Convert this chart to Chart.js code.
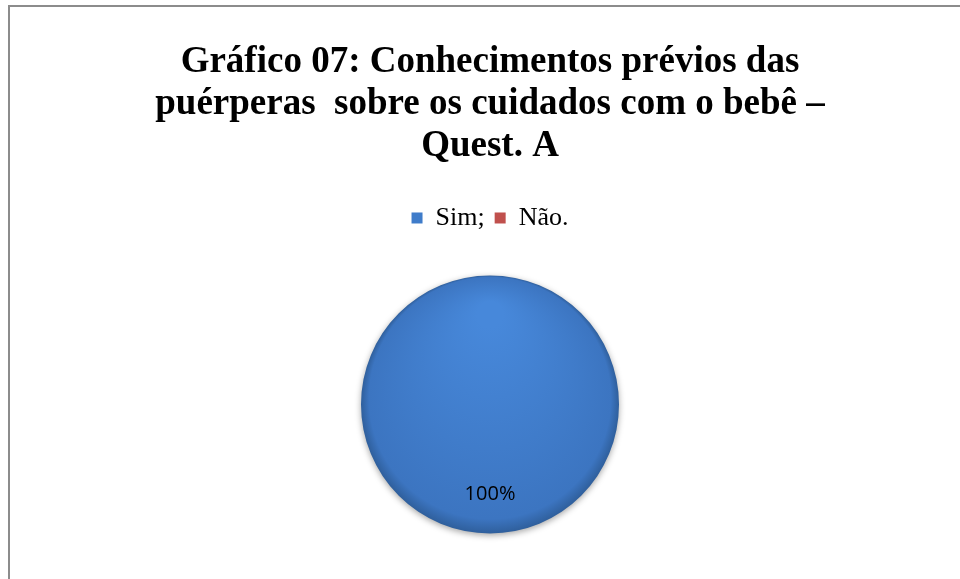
<!DOCTYPE html>
<html>
<head>
<meta charset="utf-8">
<script src="https://cdn.jsdelivr.net/npm/chart.js@4"></script>
<style>
  body { margin: 0; background: #fff; overflow: hidden; }
  #frame { position: absolute; left: 8px; top: 5px; width: 1000px; height: 700px; border: 2px solid #8c8c8c; }
  #wrap { position: absolute; left: 10px; top: 0; width: 960px; height: 579px; }
</style>
</head>
<body>
<div id="frame"></div>
<div id="wrap"><canvas id="pieChart" width="960" height="579"></canvas></div>
<script>
// Data
const categories = ['Sim;', 'Não.'];
const values = [100, 0];
const percentLabels = ['100%', '0%'];
const titleLines = ['Gráfico 07: Conhecimentos prévios das', 'puérperas  sobre os cuidados com o bebê –', 'Quest. A'];

const PIE_RADIUS = 129;

// Shaded fill for slices, close to the office bevel look
function sliceColor(ctx) {
    const chart = ctx.chart;
    const area = chart.chartArea;
    const cols = ctx.dataIndex === 0
        ? ['#4788da', '#3c75c1', '#2f5f9c']
        : ['#d4574f', '#b4443f', '#8e3431'];
    if (!area) return cols[1];
    const cx = (area.left + area.right) / 2;
    const cy = (area.top + area.bottom) / 2;
    const r = PIE_RADIUS;
    const g = chart.ctx.createRadialGradient(cx, cy - r * 0.7, r * 0.1, cx, cy, r);
    g.addColorStop(0, cols[0]);
    g.addColorStop(0.93, cols[1]);
    g.addColorStop(1, cols[2]);
    return g;
}

// Soft shadow under the pie
const pieShadow = {
    id: 'pieShadow',
    beforeDatasetsDraw(chart) {
        const c = chart.ctx;
        c.save();
        c.shadowColor = 'rgba(0,0,0,0.35)';
        c.shadowBlur = 6;
        c.shadowOffsetY = 2;
    },
    afterDatasetsDraw(chart) {
        chart.ctx.restore();
    }
};

// Draw the percent label inside each non-empty slice
const sliceLabels = {
    id: 'sliceLabels',
    afterDatasetsDraw(chart) {
        const ctx = chart.ctx;
        const meta = chart.getDatasetMeta(0);
        ctx.save();
        ctx.font = '20px "Open Sans", sans-serif';
        ctx.fillStyle = '#000';
        ctx.textAlign = 'center';
        ctx.textBaseline = 'middle';
        meta.data.forEach((arc, i) => {
            if (!values[i]) return;
            const mid = (arc.startAngle + arc.endAngle) / 2;
            const r = arc.outerRadius * 0.7;
            ctx.fillText(percentLabels[i], arc.x + Math.cos(mid) * r, arc.y + Math.sin(mid) * r);
        });
        ctx.restore();
    }
};

const ctx = document.getElementById('pieChart').getContext('2d');
const pieChart = new Chart(ctx, {
    type: 'pie',
    data: {
        labels: categories,
        datasets: [{
            data: values,
            backgroundColor: sliceColor,
            borderWidth: 0,
            radius: PIE_RADIUS
        }]
    },
    options: {
        responsive: false,
        animation: false,
        layout: { padding: { top: 0, bottom: 11 } },
        plugins: {
            title: {
                display: true,
                text: titleLines,
                color: '#000',
                font: { family: '"Liberation Serif", serif', size: 37, weight: 'bold', lineHeight: 1.135 },
                padding: { top: 41, bottom: 28 }
            },
            legend: {
                position: 'top',
                labels: {
                    color: '#000',
                    font: { family: '"Liberation Serif", serif', size: 26 },
                    boxWidth: 11,
                    boxHeight: 11,
                    padding: 10,
                    generateLabels(chart) {
                        const fills = ['#3f7cca', '#c0504d'];
                        return categories.map((label, i) => ({
                            text: label,
                            fillStyle: fills[i],
                            strokeStyle: fills[i],
                            lineWidth: 0,
                            hidden: false,
                            index: i
                        }));
                    }
                }
            },
            tooltip: { enabled: false }
        }
    },
    plugins: [pieShadow, sliceLabels]
});
</script>
</body>
</html>
